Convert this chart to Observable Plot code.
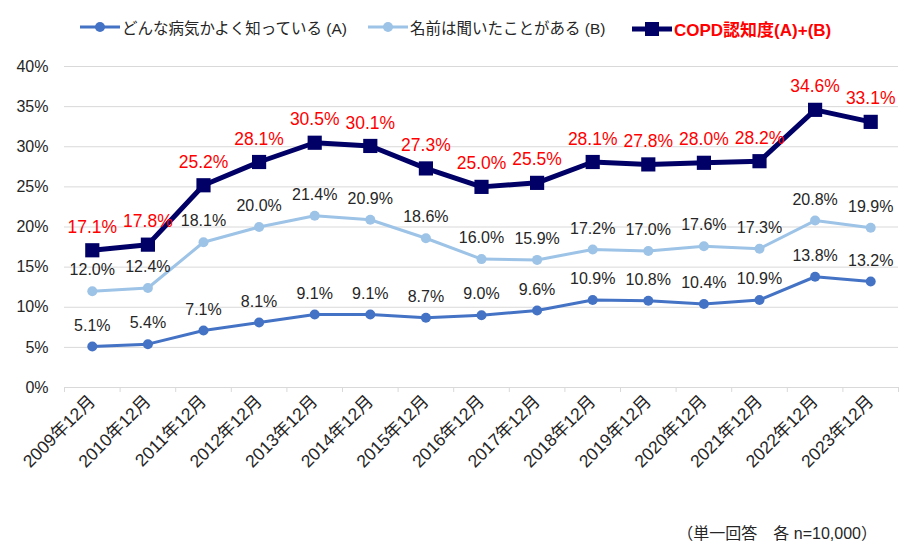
<!DOCTYPE html>
<html><head><meta charset="utf-8">
<script src="https://cdn.jsdelivr.net/npm/d3@7"></script>
<script src="https://cdn.jsdelivr.net/npm/@observablehq/plot@0.6"></script>
<style>
body{margin:0;background:#fff;font-family:"Liberation Sans","Noto Sans CJK JP",Arial,sans-serif;}
#wrap{position:relative;width:921px;height:544px;}
#legend{position:relative;height:50px;}
.item{position:absolute;top:16px;display:flex;align-items:center;white-space:nowrap;font-size:15px;color:#262626;}
.item svg{margin-right:2px;}
#note{position:absolute;left:0;width:877px;top:520px;text-align:right;font-size:16px;color:#262626;}
</style></head>
<body><div id="wrap"><div id="legend"></div><div id="chart"></div><div id="note"></div></div>
<script>
const categories = ["2009年12月","2010年12月","2011年12月","2012年12月","2013年12月","2014年12月","2015年12月","2016年12月","2017年12月","2018年12月","2019年12月","2020年12月","2021年12月","2022年12月","2023年12月"];
const seriesA = [5.1,5.4,7.1,8.1,9.1,9.1,8.7,9.0,9.6,10.9,10.8,10.4,10.9,13.8,13.2];
const seriesB = [12.0,12.4,18.1,20.0,21.4,20.9,18.6,16.0,15.9,17.2,17.0,17.6,17.3,20.8,19.9];
const seriesTotal = [17.1,17.8,25.2,28.1,30.5,30.1,27.3,25.0,25.5,28.1,27.8,28.0,28.2,34.6,33.1];
const yTicks = [0,5,10,15,20,25,30,35,40];
const names = ["どんな病気かよく知っている (A)","名前は聞いたことがある (B)","COPD認知度(A)+(B)"];
const noteText = "（単一回答　各 n=10,000）";

const colA = "#4472C4", colB = "#9DC3E6", colT = "#000066";
const idx = categories.map((_, i) => i);
const bounds = d3.range(categories.length + 1).map(i => i - 0.5);
const rows = (arr) => arr.map((v, i) => ({i, v}));
const fmt = v => v.toFixed(1) + "%";

// legend
const legend = document.getElementById("legend");
const legItems = [
  {name: names[0], color: colA, sym: "circle", lw: 3, left: 80, bold: false, tc: "#262626", fs: 15.5},
  {name: names[1], color: colB, sym: "circle", lw: 3, left: 368, bold: false, tc: "#262626", fs: 15.5},
  {name: names[2], color: colT, sym: "square", lw: 5, left: 632, bold: true, tc: "#FF0000", fs: 17}
];
for (const it of legItems) {
  const d = document.createElement("div");
  d.className = "item";
  d.style.left = it.left + "px";
  const m = it.sym === "circle"
    ? `<circle cx="20" cy="10" r="5" fill="${it.color}"/>`
    : `<rect x="13" y="3" width="14" height="14" fill="${it.color}"/>`;
  d.innerHTML = `<svg width="40" height="20"><line x1="0" x2="40" y1="10" y2="10" stroke="${it.color}" stroke-width="${it.lw}"/>${m}</svg><span style="color:${it.tc};font-weight:${it.bold ? 'bold' : 'normal'};font-size:${it.fs}px">${it.name}</span>`;
  legend.appendChild(d);
}
document.getElementById("note").textContent = noteText;

const chart = Plot.plot({
  width: 921, height: 460,
  marginLeft: 64, marginRight: 23, marginTop: 16, marginBottom: 123,
  style: {fontFamily: '"Liberation Sans","Noto Sans CJK JP",Arial,sans-serif', color: "#262626", background: "transparent"},
  x: {type: "linear", domain: [-0.5, categories.length - 0.5]},
  y: {domain: [0, 40]},
  marks: [
    Plot.ruleY(yTicks, {stroke: "#D9D9D9", strokeWidth: 1}),
    Plot.ruleX(bounds, {x: d => d, y1: 0, y2: 0, insetBottom: -5, stroke: "#D9D9D9"}),
    Plot.axisY({ticks: yTicks, tickSize: 0, tickPadding: 16, tickFormat: d => d + "%", fontSize: 16, label: null}),
    Plot.axisX({ticks: idx, tickSize: 0, tickPadding: 11, tickRotate: -45, tickFormat: i => categories[i], fontSize: 17.5, label: null}),
    Plot.line(rows(seriesA), {x: "i", y: "v", stroke: colA, strokeWidth: 3}),
    Plot.dot(rows(seriesA), {x: "i", y: "v", fill: colA, r: 5}),
    Plot.line(rows(seriesB), {x: "i", y: "v", stroke: colB, strokeWidth: 3}),
    Plot.dot(rows(seriesB), {x: "i", y: "v", fill: colB, r: 5}),
    Plot.line(rows(seriesTotal), {x: "i", y: "v", stroke: colT, strokeWidth: 5}),
    Plot.dot(rows(seriesTotal), {x: "i", y: "v", fill: colT, symbol: "square", r: 8}),
    Plot.text(rows(seriesA), {x: "i", y: "v", text: d => fmt(d.v), dy: -21, fontSize: 16, fill: "#262626"}),
    Plot.text(rows(seriesB), {x: "i", y: "v", text: d => fmt(d.v), dy: -21, fontSize: 16, fill: "#262626"}),
    Plot.text(rows(seriesTotal), {x: "i", y: "v", text: d => fmt(d.v), dy: -23, fontSize: 17.5, fill: "#FF0000"})
  ]
});
document.getElementById("chart").appendChild(chart);
</script></body></html>
